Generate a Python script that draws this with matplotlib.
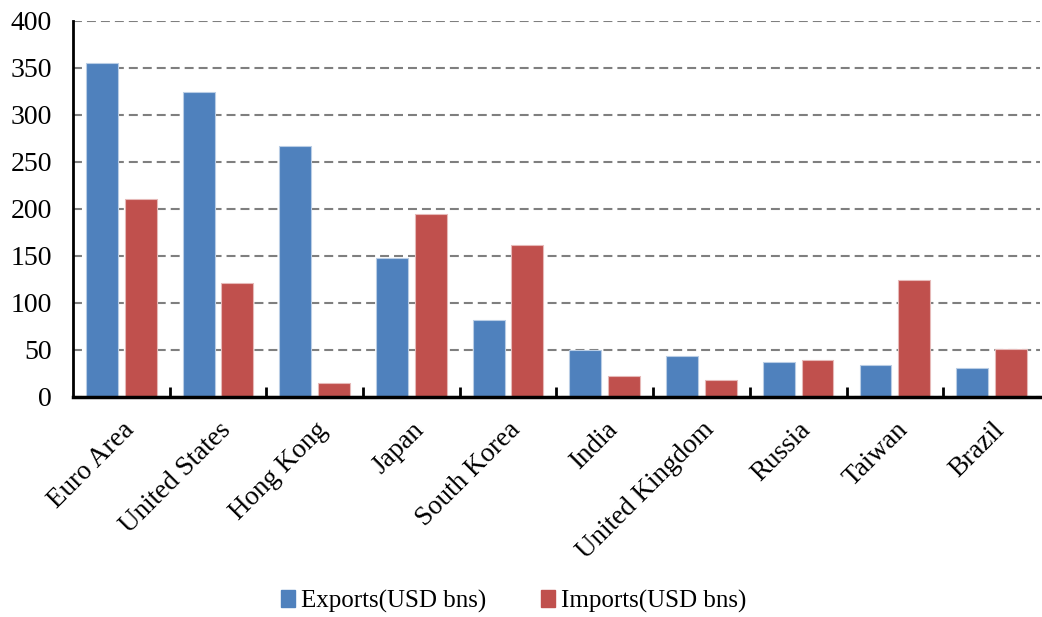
import matplotlib.pyplot as plt
import numpy as np
from matplotlib.patches import Patch

countries = ["Euro Area", "United States", "Hong Kong", "Japan", "South Korea",
             "India", "United Kingdom", "Russia", "Taiwan", "Brazil"]
exports = [355, 324, 267, 148, 82, 50, 43, 37, 34, 31]
imports = [211, 121, 15, 194, 162, 22, 18, 39, 124, 51]

plt.rcParams['font.family'] = ['Liberation Serif', 'DejaVu Serif']

blue = '#4F81BD'
red = '#C0504D'

fig = plt.figure(figsize=(10.42, 6.17), dpi=100)
ax = fig.add_axes([0.070, 0.357, 0.928, 0.609])

x = np.arange(len(countries))
w = 0.33
ax.bar(x - 0.2, exports, w, color=blue, edgecolor='#B9CDE5', linewidth=0.8, zorder=3)
ax.bar(x + 0.2, imports, w, color=red, edgecolor='#E6B9B8', linewidth=0.8, zorder=3)

ax.set_xlim(-0.5, len(countries) - 0.5)
ax.set_ylim(0, 400)
ax.set_yticks(range(0, 401, 50))
ax.yaxis.grid(True, linestyle=(0, (4.3, 2.4)), color='#7F7F7F', linewidth=1.5, zorder=0)
ax.tick_params(axis='y', length=0, labelsize=20, pad=15)

# category boundary ticks
ax.set_xticks(np.arange(0.5, len(countries) - 0.5, 1))
ax.set_xticklabels([])
ax.set_xticks(x, minor=True)
ax.set_xticklabels(countries, minor=True, rotation=45, ha='right', rotation_mode='anchor', fontsize=19.5)
ax.tick_params(axis='x', which='major', direction='in', length=7, width=2)
ax.tick_params(axis='x', which='minor', length=0, pad=15)

for s in ['top', 'right']:
    ax.spines[s].set_visible(False)
ax.spines['left'].set_linewidth(2)
ax.spines['bottom'].set_linewidth(2.5)
ax.spines['bottom'].set_zorder(4)

handles = [Patch(color=blue, label='Exports(USD bns)'),
           Patch(color=red, label='Imports(USD bns)')]
fig.legend(handles=handles, loc='center', bbox_to_anchor=(0.493, 0.026), ncol=2,
           frameon=False, fontsize=18, handlelength=0.55, handleheight=0.7,
           handletextpad=0.25, columnspacing=2.2)

fig.savefig('out.png', dpi=100)
